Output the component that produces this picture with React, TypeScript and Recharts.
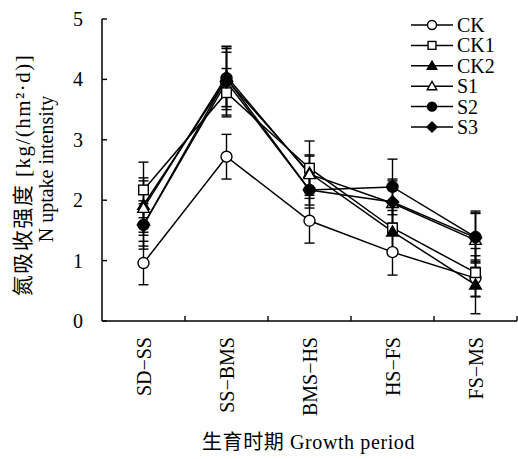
import React from 'react';
import { LineChart, Line, XAxis, YAxis, ErrorBar, Legend, Label } from 'recharts';

const categories = ['SD−SS', 'SS−BMS', 'BMS−HS', 'HS−FS', 'FS−MS'];
const yTicks = [0, 1, 2, 3, 4, 5];

const ckValues = [0.96, 2.72, 1.66, 1.14, 0.71];
const ckErrors = [0.36, 0.37, 0.37, 0.38, 0.3];
const ck1Values = [2.17, 3.78, 2.53, 1.54, 0.8];
const ck1Errors = [0.46, 0.4, 0.45, 0.35, 0.4];
const ck2Values = [1.92, 4.0, 2.45, 1.48, 0.6];
const ck2Errors = [0.45, 0.45, 0.3, 0.35, 0.48];
const s1Values = [1.87, 4.05, 2.43, 1.95, 1.34];
const s1Errors = [0.45, 0.5, 0.3, 0.4, 0.45];
const s2Values = [1.59, 4.02, 2.17, 2.22, 1.39];
const s2Errors = [0.4, 0.52, 0.3, 0.46, 0.43];
const s3Values = [1.59, 3.96, 2.17, 1.97, 1.38];
const s3Errors = [0.35, 0.55, 0.25, 0.35, 0.4];

const seriesNames = ['CK', 'CK1', 'CK2', 'S1', 'S2', 'S3'];
const seriesValues = [ckValues, ck1Values, ck2Values, s1Values, s2Values, s3Values];
const seriesErrors = [ckErrors, ck1Errors, ck2Errors, s1Errors, s2Errors, s3Errors];
const seriesShapes = ['circleOpen', 'squareOpen', 'triFilled', 'triOpen', 'circleFilled', 'diamondFilled'];

const data = categories.map((cat, i) => {
  const row: any = { cat };
  seriesNames.forEach((n, k) => {
    row[n] = seriesValues[k][i];
    row[n + '_err'] = seriesErrors[k][i];
  });
  return row;
});

const FONT = "Liberation Serif, DejaVu Serif, Noto Sans CJK SC, serif";
const FS = 20;
const textStyle: any = { fontFamily: FONT, fontSize: FS, fill: '#000' };

function Marker({ shape, cx, cy, s = 1 }: { shape: string; cx: number; cy: number; s?: number }) {
  const sw = 1.4;
  switch (shape) {
    case 'circleOpen':
      return <circle cx={cx} cy={cy} r={5.5 * s} fill="#fff" stroke="#000" strokeWidth={sw} />;
    case 'circleFilled':
      return <circle cx={cx} cy={cy} r={5.5 * s} fill="#000" stroke="#000" strokeWidth={sw} />;
    case 'squareOpen':
      return <rect x={cx - 4.8 * s} y={cy - 4.8 * s} width={9.6 * s} height={9.6 * s} fill="#fff" stroke="#000" strokeWidth={sw} />;
    case 'triFilled':
    case 'triOpen': {
      const h = 5.8 * s;
      const w = 5.8 * s;
      const pts = `${cx},${cy - h} ${cx + w},${cy + h * 0.75} ${cx - w},${cy + h * 0.75}`;
      return <polygon points={pts} fill={shape === 'triFilled' ? '#000' : '#fff'} stroke="#000" strokeWidth={sw} />;
    }
    case 'diamondFilled': {
      const r = 6.2 * s;
      const pts = `${cx},${cy - r} ${cx + r},${cy} ${cx},${cy + r} ${cx - r},${cy}`;
      return <polygon points={pts} fill="#000" stroke="#000" strokeWidth={sw} />;
    }
    default:
      return null;
  }
}

const makeDot = (shape: string) => (props: any) => {
  const { cx, cy, index } = props;
  if (cx == null || cy == null) return <g key={index} />;
  return (
    <g key={`${shape}-${index}`}>
      <Marker shape={shape} cx={cx} cy={cy} />
    </g>
  );
};

const YTick = (props: any) => {
  const { x, y, payload } = props;
  return (
    <g>
      <line x1={x} y1={y} x2={x + 5} y2={y} stroke="#000" strokeWidth={1.4} />
      <text x={x - 19} y={y} dy="0.35em" textAnchor="end" style={textStyle}>
        {payload.value}
      </text>
    </g>
  );
};

const XTick = (props: any) => {
  const { x, y, payload } = props;
  const half = 41.5;
  const ty = y + 16;
  return (
    <g>
      <line x1={x + half} y1={y} x2={x + half} y2={y - 5} stroke="#000" strokeWidth={1.4} />
      <text
        x={x}
        y={ty}
        dy="0.35em"
        textAnchor="end"
        transform={`rotate(-90, ${x}, ${ty})`}
        style={textStyle}
      >
        {payload.value}
      </text>
    </g>
  );
};

const XTitle = (props: any) => {
  const vb = props.viewBox || {};
  const cx = vb.x + vb.width / 2 - 1;
  return (
    <text x={cx} y={449} textAnchor="middle" style={{ ...textStyle, letterSpacing: 0.6 }}>
      生育时期 Growth period
    </text>
  );
};

const YTitle = (props: any) => {
  const vb = props.viewBox || {};
  const cy = vb.y + vb.height / 2;
  return (
    <g>
      <text
        x={23}
        y={cy + 5}
        dy="0.35em"
        textAnchor="middle"
        transform={`rotate(-90, 23, ${cy + 5})`}
        style={{ ...textStyle, fontSize: 21, letterSpacing: 1.5 }}
      >
        氮吸收强度 [kg/(hm²·d)]
      </text>
      <text
        x={46}
        y={cy - 1}
        dy="0.35em"
        textAnchor="middle"
        transform={`rotate(-90, 46, ${cy - 1})`}
        style={textStyle}
      >
        N uptake intensity
      </text>
    </g>
  );
};

const LegendContent = () => {
  const ox = 405;
  const oy = 10;
  return (
    <svg width={113} height={130} style={{ display: 'block' }}>
      {seriesNames.map((n, k) => {
        const cy = 25 + k * 20.4 - oy;
        return (
          <g key={n}>
            <line x1={411 - ox} y1={cy} x2={453 - ox} y2={cy} stroke="#000" strokeWidth={1.5} />
            <Marker shape={seriesShapes[k]} cx={432 - ox} cy={cy} s={0.82} />
            <text x={457 - ox} y={cy} dy="0.35em" style={textStyle}>
              {n}
            </text>
          </g>
        );
      })}
    </svg>
  );
};

export default function App() {
  return (
    <div style={{ position: 'absolute', left: 0, top: 0, width: 518, height: 459, background: '#fff' }}>
      <LineChart width={518} height={459} data={data} margin={{ top: 19, right: 1, bottom: 0, left: 0 }}>
        <XAxis
          dataKey="cat"
          type="category"
          scale="band"
          height={138}
          axisLine={{ stroke: '#000', strokeWidth: 1.5 }}
          tickLine={false}
          tickSize={0}
          tickMargin={0}
          tick={<XTick />}
          interval={0}
        >
          <Label content={<XTitle />} />
        </XAxis>
        <YAxis
          type="number"
          domain={[0, 5]}
          ticks={yTicks}
          width={102}
          axisLine={{ stroke: '#000', strokeWidth: 1.5 }}
          tickLine={false}
          tickSize={0}
          tickMargin={0}
          tick={<YTick />}
          interval={0}
        >
          <Label content={<YTitle />} />
        </YAxis>
        <Legend
          layout="vertical"
          align="center"
          verticalAlign="middle"
          content={<LegendContent />}
          wrapperStyle={{ left: 405, top: 10, width: 113, height: 130 }}
        />
        {seriesNames.map((n, k) => (
          <Line
            key={n}
            dataKey={n}
            name={n}
            type="linear"
            stroke="#000"
            strokeWidth={1.5}
            isAnimationActive={false}
            dot={makeDot(seriesShapes[k])}
            activeDot={false}
          >
            <ErrorBar dataKey={n + '_err'} direction="y" width={5} stroke="#000" strokeWidth={1.4} />
          </Line>
        ))}
      </LineChart>
    </div>
  );
}
